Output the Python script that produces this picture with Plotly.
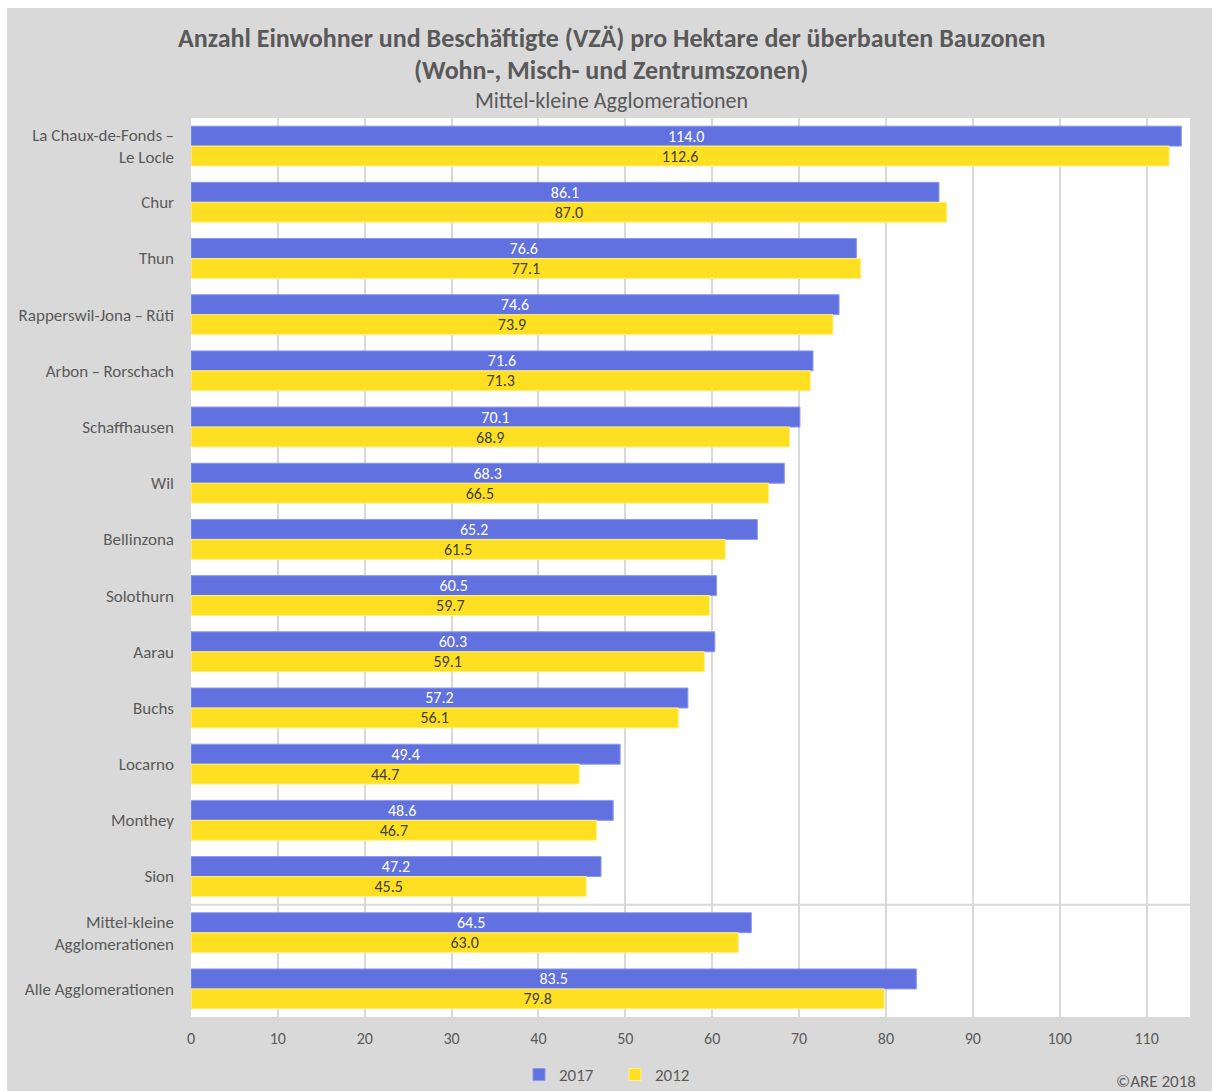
import plotly.graph_objects as go

# Agglomerations (top to bottom) and density values per hectare
regions = [
    "La Chaux-de-Fonds\u2009\u2013<br>Le Locle",
    "Chur",
    "Thun",
    "Rapperswil-Jona\u2009\u2013\u2009Rüti",
    "Arbon\u2009\u2013\u2009Rorschach",
    "Schaffhausen",
    "Wil",
    "Bellinzona",
    "Solothurn",
    "Aarau",
    "Buchs",
    "Locarno",
    "Monthey",
    "Sion",
    "Mittel-kleine<br>Agglomerationen",
    "Alle Agglomerationen",
]
values_2017 = [114.0, 86.1, 76.6, 74.6, 71.6, 70.1, 68.3, 65.2, 60.5, 60.3, 57.2, 49.4, 48.6, 47.2, 64.5, 83.5]
values_2012 = [112.6, 87.0, 77.1, 73.9, 71.3, 68.9, 66.5, 61.5, 59.7, 59.1, 56.1, 44.7, 46.7, 45.5, 63.0, 79.8]
x_ticks = [0, 10, 20, 30, 40, 50, 60, 70, 80, 90, 100, 110]

FONT = "Carlito, Lato, 'Open Sans', sans-serif"
TXT = "#595959"
BLUE = "#6171e0"
YELLOW = "#ffdf21"

W, H = 1212, 1091
ML, MR, MT, MB = 191, 22, 118, 74

fig = go.Figure()
fig.add_trace(go.Bar(
    name="2017", y=regions, x=values_2017, orientation="h",
    marker=dict(color=BLUE, line=dict(color="#8a97f0", width=1)),
    texttemplate="%{x:.1f}", textposition="inside", insidetextanchor="middle",
    constraintext="none",
    textfont=dict(color="white", size=16, family=FONT),
))
fig.add_trace(go.Bar(
    name="2012", y=regions, x=values_2012, orientation="h",
    marker=dict(color=YELLOW, line=dict(color="#fff08a", width=1)),
    texttemplate="%{x:.1f}", textposition="inside", insidetextanchor="middle",
    constraintext="none",
    textfont=dict(color="#404040", size=16, family=FONT),
))

pw = W - ML - MR
ph = H - MT - MB

shapes = [
    # separator between single agglomerations and aggregates
    dict(type="line", xref="paper", yref="y", x0=0, x1=1,
         y0=regions.index("Mittel-kleine<br>Agglomerationen") - 0.5,
         y1=regions.index("Mittel-kleine<br>Agglomerationen") - 0.5,
         line=dict(color="#d9d9d9", width=2), layer="below"),
    # thin white frame strips at top and left
    dict(type="rect", xref="paper", yref="paper",
         x0=-ML / pw, x1=(W - ML) / pw, y0=1 + (MT - 8) / ph, y1=1 + MT / ph,
         fillcolor="white", line=dict(width=0)),
    dict(type="rect", xref="paper", yref="paper",
         x0=-ML / pw, x1=(7 - ML) / pw, y0=-MB / ph, y1=1 + MT / ph,
         fillcolor="white", line=dict(width=0)),
]

annotations = [
    dict(text="<b>Anzahl Einwohner und Beschäftigte (VZÄ) pro Hektare der überbauten Bauzonen</b>",
         xref="paper", yref="paper", x=(611 - ML) / pw, y=1 + (MT - 38) / ph,
         xanchor="center", yanchor="middle", showarrow=False,
         font=dict(size=26, color=TXT, family=FONT)),
    dict(text="<b>(Wohn-, Misch- und Zentrumszonen)</b>",
         xref="paper", yref="paper", x=(611 - ML) / pw, y=1 + (MT - 70) / ph,
         xanchor="center", yanchor="middle", showarrow=False,
         font=dict(size=26, color=TXT, family=FONT)),
    dict(text="Mittel-kleine Agglomerationen",
         xref="paper", yref="paper", x=(611 - ML) / pw, y=1 + (MT - 101) / ph,
         xanchor="center", yanchor="middle", showarrow=False,
         font=dict(size=22, color=TXT, family=FONT)),
    dict(text="©ARE 2018",
         xref="paper", yref="paper", x=(1198 - ML) / pw, y=-(1081 - (H - MB)) / ph,
         xanchor="right", yanchor="middle", showarrow=False,
         font=dict(size=17, color=TXT, family=FONT)),
]

fig.update_layout(
    width=W, height=H,
    margin=dict(l=ML, r=MR, t=MT, b=MB, autoexpand=False),
    paper_bgcolor="#d9d9d9", plot_bgcolor="white",
    barmode="group", bargap=0.29, bargroupgap=0,
    font=dict(family=FONT, color=TXT, size=16),
    showlegend=True,
    legend=dict(orientation="h", xref="container", yref="container",
                x=519 / W, y=1 - 1075 / H, xanchor="left", yanchor="middle",
                font=dict(size=17, color=TXT), bgcolor="rgba(0,0,0,0)",
                itemwidth=30, entrywidth=51, entrywidthmode="pixels",
                tracegroupgap=0),
    shapes=shapes,
    annotations=annotations,
    uniformtext=dict(mode=False),
)
fig.update_xaxes(
    range=[0, 115], tickvals=x_ticks, showgrid=True, gridcolor="#d9d9d9", gridwidth=2,
    zeroline=False, showline=False, ticks="", ticklabelstandoff=10,
    tickfont=dict(size=16, color=TXT, family=FONT), fixedrange=True,
)
fig.update_yaxes(
    autorange="reversed", showgrid=False, ticks="", ticklabelstandoff=16,
    tickfont=dict(size=17, color=TXT, family=FONT), fixedrange=True,
)

fig.write_html("out.html")
